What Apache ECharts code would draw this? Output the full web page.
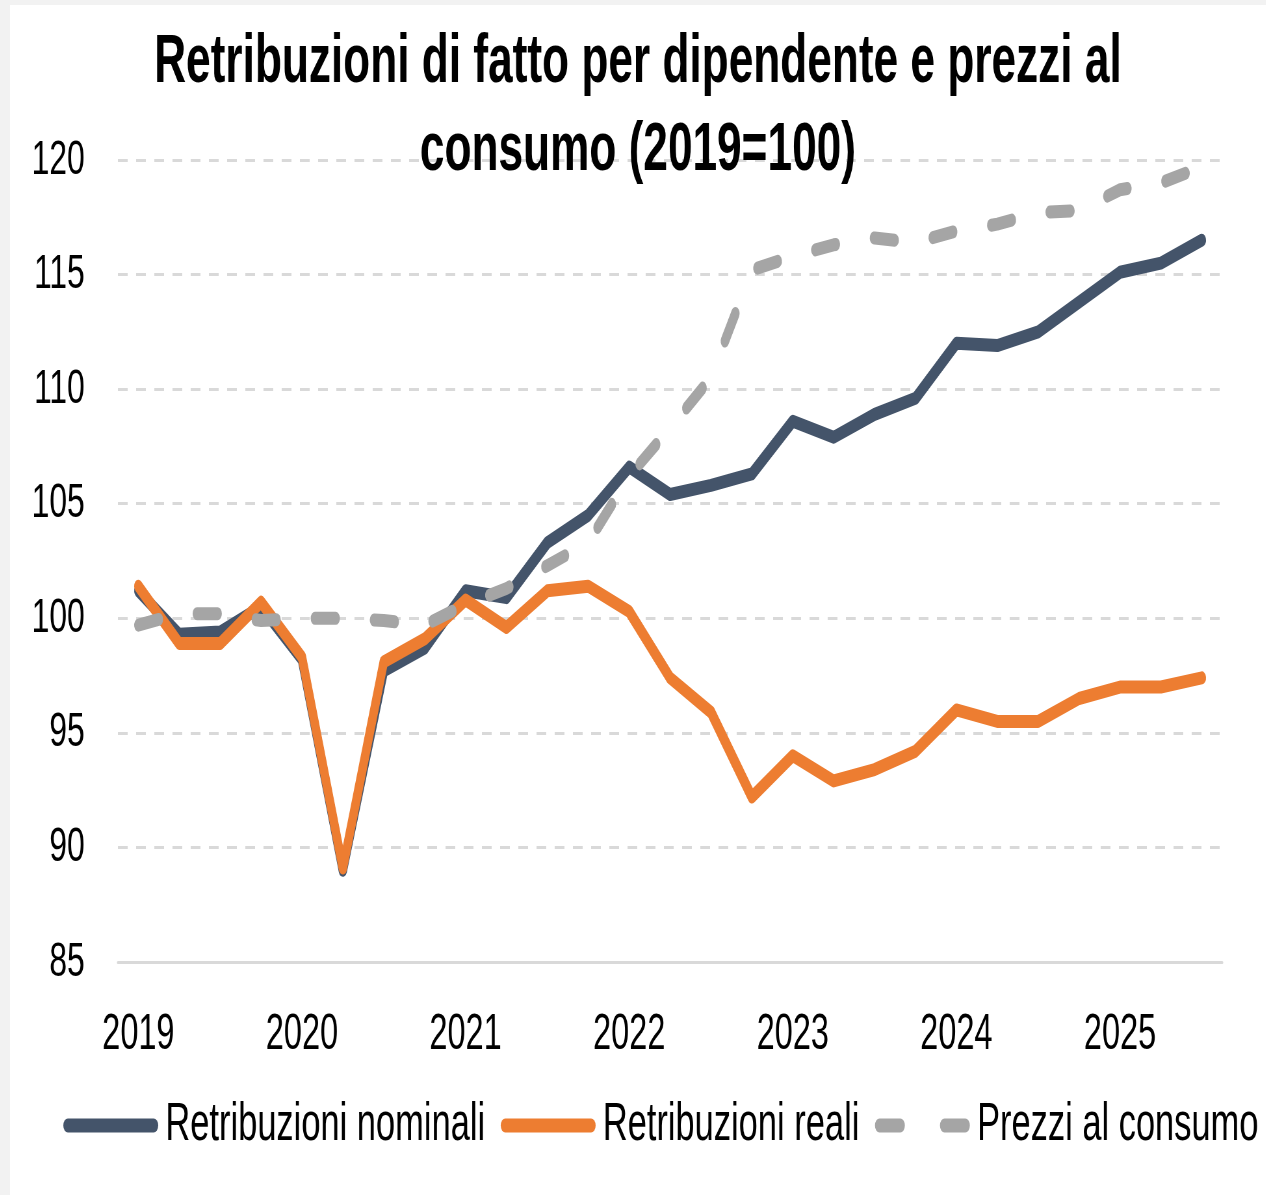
<!DOCTYPE html>
<html>
<head>
<meta charset="utf-8">
<title>Retribuzioni di fatto per dipendente e prezzi al consumo</title>
<script src="https://cdn.jsdelivr.net/npm/echarts@6/dist/echarts.min.js"></script>
<style>
  html, body { margin: 0; padding: 0; width: 1266px; height: 1195px; overflow: hidden; background: #f2f2f2; }
  #frame { position: absolute; left: 10px; top: 5px; width: 1256px; height: 1190px; background: #fff; overflow: hidden; }
  /* the original picture is horizontally squeezed: draw wide, then compress */
  #chart { width: 1932px; height: 1190px; transform: scaleX(0.65); transform-origin: 0 0; }
</style>
</head>
<body>
<div id="frame"><div id="chart"></div></div>
<script>
// trimestri 2019 T1 - 2025 T3
var quarters = [
  '2019-T1', '2019-T2', '2019-T3', '2019-T4',
  '2020-T1', '2020-T2', '2020-T3', '2020-T4',
  '2021-T1', '2021-T2', '2021-T3', '2021-T4',
  '2022-T1', '2022-T2', '2022-T3', '2022-T4',
  '2023-T1', '2023-T2', '2023-T3', '2023-T4',
  '2024-T1', '2024-T2', '2024-T3', '2024-T4',
  '2025-T1', '2025-T2', '2025-T3'
];
var nominali = [101.2, 99.3, 99.4, 100.5, 98.2, 89.0, 97.7, 98.7, 101.2, 100.9, 103.3, 104.5,
  106.6, 105.4, 105.8, 106.3, 108.6, 107.9, 108.9, 109.6, 112.0, 111.9, 112.5, 113.8, 115.1, 115.5, 116.5];
var reali = [101.4, 98.9, 98.9, 100.7, 98.3, 89.1, 98.1, 99.1, 100.8, 99.6, 101.2, 101.4,
  100.3, 97.4, 95.9, 92.2, 94.0, 92.9, 93.4, 94.2, 96.0, 95.5, 95.5, 96.5, 97.0, 97.0, 97.4];
var prezzi = [99.7, 100.2, 100.2, 99.9, 100.0, 100.0, 99.9, 99.7, 100.6, 101.3, 102.3, 103.3,
  106.2, 108.3, 110.5, 115.2, 115.8, 116.3, 116.6, 116.4, 116.9, 117.2, 117.7, 117.8, 118.7, 119.0, 119.7];
var yTicks = { min: 85, max: 120, step: 5 };
var names = ['Retribuzioni nominali', 'Retribuzioni reali', 'Prezzi al consumo'];
var colors = ['#44546a', '#ed7d31', '#a5a5a5'];

// legend icons: rounded bar, and two rounded dashes for the dashed series
var iconSolid = 'path://M7,0H139A7,7,0,0,1,139,14H7A7,7,0,0,1,7,0Z';
var iconDashed = 'path://M7,0H39A7,7,0,0,1,39,14H7A7,7,0,0,1,7,0ZM107,0H139A7,7,0,0,1,139,14H107A7,7,0,0,1,107,0Z';

var chart = echarts.init(document.getElementById('chart'), null, { renderer: 'canvas' });

function lineSerie(i, values, dash) {
  return {
    name: names[i],
    type: 'line',
    data: values,
    symbol: 'none',
    silent: true,
    color: colors[i],
    itemStyle: { color: colors[i] },
    lineStyle: {
      color: colors[i],
      width: 13,
      cap: 'round',
      join: 'round',
      type: dash || 'solid'
    }
  };
}

var option = {
  animation: false,
  backgroundColor: '#fff',
  textStyle: { fontFamily: 'Liberation Sans' },
  title: {
    text: 'Retribuzioni di fatto per dipendente e prezzi al\nconsumo (2019=100)',
    left: 'center',
    top: 9,
    textStyle: {
      fontFamily: 'Liberation Sans',
      fontWeight: 'bold',
      fontSize: 68,
      lineHeight: 88,
      color: '#000'
    }
  },
  legend: {
    left: 82,
    top: 1094,
    width: 1850,
    padding: 0,
    itemWidth: 146,
    itemHeight: 14,
    itemGap: 24,
    textStyle: { fontFamily: 'Liberation Sans', fontSize: 53, color: '#000', padding: [0, 0, 0, 6] },
    data: [
      { name: names[0], icon: iconSolid },
      { name: names[1], icon: iconSolid },
      { name: names[2], icon: iconDashed }
    ]
  },
  grid: { left: 166, right: 67, top: 155, bottom: 233 },
  xAxis: {
    type: 'category',
    data: quarters,
    boundaryGap: true,
    axisLine: { show: true, lineStyle: { color: '#d9d9d9', width: 3 } },
    axisTick: { show: false },
    axisLabel: {
      interval: 3,
      margin: 48,
      fontSize: 50,
      color: '#000',
      formatter: function (v) { return v.slice(0, 4); }
    }
  },
  yAxis: {
    type: 'value',
    min: yTicks.min,
    max: yTicks.max,
    interval: yTicks.step,
    axisLine: { show: false },
    axisTick: { show: false },
    axisLabel: { margin: 51, fontSize: 49, color: '#000' },
    splitLine: { lineStyle: { color: '#d9d9d9', width: 3, type: [15, 13] } }
  },
  series: [
    lineSerie(0, nominali),
    lineSerie(1, reali),
    lineSerie(2, prezzi, [32, 59])
  ]
};

chart.setOption(option);
</script>
</body>
</html>
